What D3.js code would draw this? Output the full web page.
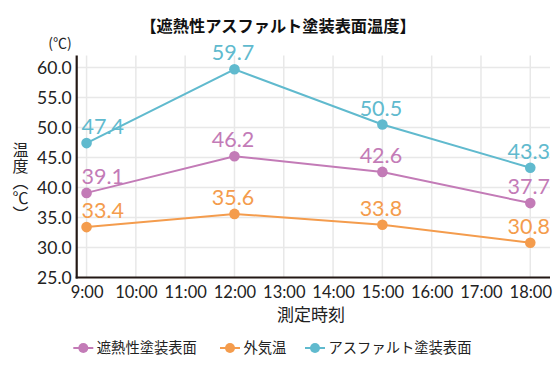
<!DOCTYPE html>
<html><head><meta charset="utf-8">
<script src="https://cdn.jsdelivr.net/npm/d3@7"></script>
<style>
html,body{margin:0;padding:0;background:#fff;}
svg{display:block;}
</style></head>
<body>
<svg id="c" width="560" height="378"></svg>
<script>
const times = [9, 12, 15, 18];
const tickHours = [9,10,11,12,13,14,15,16,17,18];
const tickLabels = ["9:00","10:00","11:00","12:00","13:00","14:00","15:00","16:00","17:00","18:00"];
const yTicks = [25,30,35,40,45,50,55,60];
const seriesNames = ["遮熱性塗装表面","外気温","アスファルト塗装表面"];
const shanetsuValues = [39.1, 45.2, 42.6, 37.4];
const shanetsuLabels = ["39.1","46.2","42.6","37.7"];
const gaikiValues = [33.4, 35.6, 33.8, 30.8];
const gaikiLabels = ["33.4","35.6","33.8","30.8"];
const asphaltValues = [47.4, 59.7, 50.5, 43.3];
const asphaltLabels = ["47.4","59.7","50.5","43.3"];
const colors = ["#c37bb7","#f49c4d","#60bace"];

const series = [
  {name: seriesNames[0], values: shanetsuValues, labels: shanetsuLabels, color: colors[0]},
  {name: seriesNames[1], values: gaikiValues, labels: gaikiLabels, color: colors[1]},
  {name: seriesNames[2], values: asphaltValues, labels: asphaltLabels, color: colors[2]}
];

const svg = d3.select("#c");
const L = 76.7, R = 550, T = 55.5, B = 277.5;
const x = d3.scaleLinear().domain([8.8, 18.4]).range([L, R]);
const y = d3.scaleLinear().domain([25, 62]).range([B, T]);
const FONT = "'Noto Sans CJK JP', 'Noto Sans', sans-serif";
const NUMF = "Lato, 'Noto Sans CJK JP', sans-serif";

// grid
const g = svg.append("g");
g.selectAll("line.v").data(tickHours).enter().append("line")
  .attr("x1", d => x(d)).attr("x2", d => x(d)).attr("y1", T).attr("y2", B)
  .attr("stroke", "#e8e8e8").attr("stroke-width", 1.5);
g.selectAll("line.h").data(yTicks.filter(d => d > 25)).enter().append("line")
  .attr("x1", L).attr("x2", R).attr("y1", d => y(d)).attr("y2", d => y(d))
  .attr("stroke", "#e8e8e8").attr("stroke-width", 1.5);

// axes
const yAxis = d3.axisLeft(y).tickValues(yTicks).tickFormat(d3.format(".1f")).tickSize(0).tickPadding(5);
const ya = svg.append("g").attr("transform", `translate(${L},0)`).call(yAxis);
ya.select(".domain").remove();
ya.selectAll("text").attr("font-family", NUMF).attr("font-size", 17.5).attr("fill", "#222").attr("dy", "0.36em");

const xAxis = d3.axisBottom(x).tickValues(tickHours).tickFormat((d,i) => tickLabels[i]).tickSize(0).tickPadding(9);
const xa = svg.append("g").attr("transform", `translate(0,${B})`).call(xAxis);
xa.select(".domain").remove();
xa.selectAll("text").attr("font-family", NUMF).attr("font-size", 16.5).attr("fill", "#222");

svg.append("line").attr("x1", L).attr("x2", L).attr("y1", T).attr("y2", B + 1)
  .attr("stroke", "#231815").attr("stroke-width", 2.2);
svg.append("line").attr("x1", L - 1).attr("x2", R).attr("y1", B).attr("y2", B)
  .attr("stroke", "#231815").attr("stroke-width", 2.2);

// lines & points
const line = d3.line().x((d,i) => x(times[i])).y(d => y(d));
series.forEach(s => {
  svg.append("path").datum(s.values).attr("d", line)
    .attr("fill", "none").attr("stroke", s.color).attr("stroke-width", 2);
  svg.selectAll(null).data(s.values).enter().append("circle")
    .attr("cx", (d,i) => x(times[i])).attr("cy", d => y(d)).attr("r", 5.3)
    .attr("fill", s.color);
});
series.forEach(s => {
  svg.selectAll(null).data(s.values).enter().append("text")
    .attr("x", (d,i) => i === 0 ? x(times[i]) - 5 : x(times[i]) - 1.5)
    .attr("y", d => y(d) - 9)
    .attr("text-anchor", (d,i) => i === 0 ? "start" : "middle")
    .attr("font-family", NUMF).attr("font-weight", 400).attr("font-size", 21.5)
    .attr("fill", s.color)
    .text((d,i) => s.labels[i]);
});

// titles
svg.append("text").attr("x", 278).attr("y", 31.5).attr("text-anchor", "middle")
  .attr("font-family", FONT).attr("font-weight", 700).attr("font-size", 16.2).attr("fill", "#111")
  .text("【遮熱性アスファルト塗装表面温度】");
svg.append("text").attr("x", 60).attr("y", 47.5).attr("text-anchor", "middle")
  .attr("font-family", FONT).attr("font-size", 14).attr("fill", "#222")
  .text("(℃)");

// vertical y-axis title
svg.append("text").attr("x", 20.5).attr("y", 142)
  .attr("font-family", FONT).attr("font-size", 16).attr("fill", "#222")
  .style("writing-mode", "vertical-rl")
  .style("text-orientation", "mixed")
  .text("温度（℃）");

svg.append("text").attr("x", 311).attr("y", 321).attr("text-anchor", "middle")
  .attr("font-family", FONT).attr("font-size", 17).attr("fill", "#222")
  .text("測定時刻");

// legend
const legendX = [73.3, 220, 305];
series.forEach((s, i) => {
  const lx = legendX[i], ly = 348;
  svg.append("line").attr("x1", lx).attr("x2", lx + 20).attr("y1", ly).attr("y2", ly)
    .attr("stroke", s.color).attr("stroke-width", 2);
  svg.append("circle").attr("cx", lx + 10).attr("cy", ly).attr("r", 5).attr("fill", s.color);
  svg.append("text").attr("x", lx + 23.5).attr("y", ly + 5).attr("font-family", FONT)
    .attr("font-size", 14.3).attr("fill", "#222").text(s.name);
});
</script>
</body></html>
